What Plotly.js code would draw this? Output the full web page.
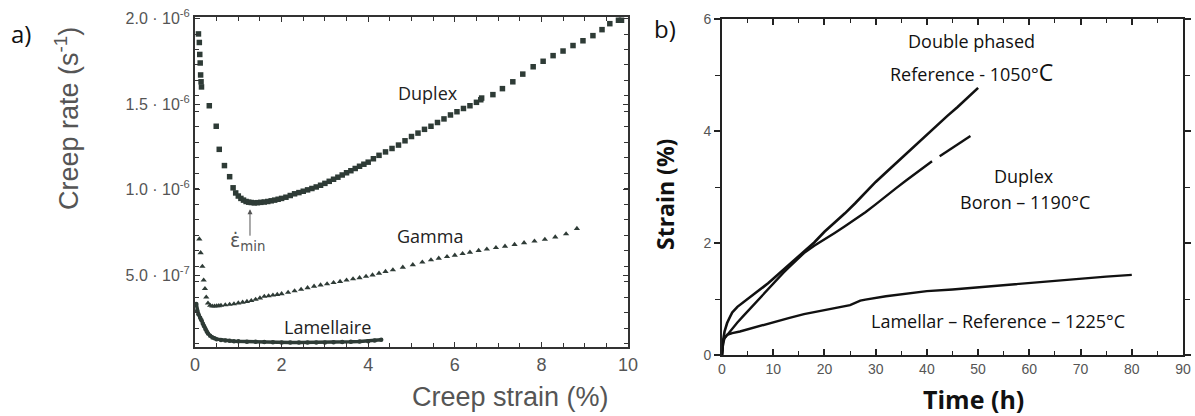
<!DOCTYPE html>
<html>
<head>
<meta charset="utf-8">
<script src="https://cdn.plot.ly/plotly-3.0.1.min.js"></script>
<style>html,body{margin:0;padding:0;background:#fff;}#chart{width:1195px;height:416px;}</style>
</head>
<body>
<div id="chart"></div>
<script>
// ---------- Panel a) : creep rate vs creep strain ----------
const duplexStrain = [0.08,0.10,0.11,0.12,0.13,0.14,0.15,0.33,0.49,0.56,0.68,0.80,0.88,0.94,1.00,1.06,1.12,1.18,1.24,1.30,1.37,1.44,1.52,1.60,1.68,1.76,1.84,1.92,2.00,2.10,2.20,2.30,2.40,2.50,2.60,2.70,2.80,2.90,3.00,3.10,3.20,3.30,3.40,3.50,3.60,3.70,3.80,3.90,4.00,4.12,4.25,4.40,4.55,4.70,4.85,5.00,5.15,5.30,5.45,5.60,5.75,5.90,6.05,6.20,6.35,6.50,6.60,6.62,6.88,7.10,7.34,7.57,7.81,8.04,8.27,8.50,8.73,8.96,9.19,9.40,9.58,9.78,9.85];
const duplexRate = [1.91,1.86,1.79,1.74,1.67,1.63,1.60,1.49,1.37,1.235,1.14,1.075,1.01,0.98,0.962,0.948,0.938,0.930,0.926,0.924,0.922,0.923,0.925,0.927,0.930,0.934,0.938,0.943,0.948,0.955,0.965,0.975,0.982,0.990,0.998,1.006,1.015,1.025,1.036,1.048,1.060,1.072,1.085,1.098,1.110,1.123,1.136,1.148,1.160,1.180,1.200,1.220,1.240,1.260,1.285,1.310,1.330,1.352,1.370,1.392,1.413,1.436,1.455,1.474,1.490,1.510,1.525,1.535,1.555,1.590,1.630,1.675,1.718,1.750,1.783,1.810,1.842,1.870,1.900,1.935,1.970,1.990,1.990];

const gammaStrain = [0.10,0.13,0.17,0.20,0.23,0.26,0.30,0.35,0.40,0.45,0.50,0.55,0.60,0.70,0.80,0.90,1.00,1.10,1.20,1.30,1.40,1.50,1.60,1.70,1.80,1.90,2.00,2.15,2.30,2.45,2.60,2.75,2.90,3.05,3.20,3.35,3.50,3.65,3.80,3.95,4.10,4.25,4.40,4.57,4.80,5.03,5.25,5.45,5.63,5.82,6.00,6.18,6.35,6.55,6.74,6.95,7.16,7.38,7.60,7.84,8.08,8.32,8.57,8.82];
const gammaRate = [0.71,0.63,0.55,0.47,0.42,0.37,0.335,0.322,0.318,0.318,0.319,0.320,0.322,0.325,0.328,0.331,0.336,0.340,0.345,0.350,0.357,0.365,0.375,0.378,0.382,0.386,0.390,0.398,0.407,0.416,0.425,0.434,0.441,0.448,0.455,0.462,0.470,0.477,0.484,0.492,0.500,0.510,0.520,0.530,0.545,0.560,0.575,0.588,0.598,0.607,0.615,0.625,0.633,0.643,0.651,0.660,0.668,0.678,0.688,0.698,0.708,0.722,0.740,0.772];

const lamStrain = [0.03,0.05,0.08,0.12,0.15,0.18,0.21,0.24,0.27,0.30,0.35,0.40,0.45,0.50,0.60,0.70,0.80,0.90,1.00,1.20,1.40,1.60,1.80,2.00,2.20,2.40,2.60,2.80,3.00,3.20,3.40,3.60,3.80,4.00,4.15,4.30];
const lamRate = [0.33,0.29,0.27,0.25,0.235,0.215,0.20,0.185,0.17,0.158,0.145,0.135,0.13,0.125,0.12,0.117,0.115,0.113,0.112,0.110,0.109,0.108,0.107,0.106,0.105,0.105,0.105,0.106,0.106,0.107,0.108,0.109,0.111,0.113,0.117,0.121];

const rateTickVals = [0.5, 1.0, 1.5, 2.0];
const rateTickText = ['5.0 · 10<sup>-7</sup>', '1.0 · 10<sup>-6</sup>', '1.5 · 10<sup>-6</sup>', '2.0 · 10<sup>-6</sup>'];

// ---------- Panel b) : strain vs time ----------
const dpTime = [0,0.2,0.5,1,1.5,2,3,4,5,6,7,8,9,10,11,12,13,14,15,16,18,20,22,24,26,28,30,32,34,36,38,40,42,44,46,48,50];
const dpStrain = [0,0.25,0.42,0.57,0.67,0.76,0.86,0.93,0.99,1.06,1.13,1.20,1.28,1.36,1.44,1.52,1.60,1.68,1.77,1.85,2.01,2.20,2.36,2.53,2.71,2.90,3.09,3.26,3.43,3.60,3.76,3.93,4.10,4.27,4.43,4.60,4.77];

const dxTime = [0,0.2,0.5,1,1.5,2,3,4,5,6,7,8,9,10,11,12,13,14,15,16,18,20,22,24,26,28,30,32,34,36,38,40,41,41.8,42.5,44,46,48.5];
const dxStrain = [0,0.20,0.30,0.36,0.42,0.48,0.58,0.68,0.78,0.88,0.98,1.08,1.18,1.28,1.38,1.47,1.56,1.65,1.74,1.82,1.95,2.06,2.18,2.30,2.42,2.55,2.69,2.84,2.98,3.12,3.26,3.39,3.46,null,3.55,3.64,3.76,3.91];

const lmTime = [0,0.3,1,2,3.5,5,7,10,13,16,20,25,27,28,32,36,40,45,50,55,60,65,70,75,80];
const lmStrain = [0,0.28,0.36,0.39,0.42,0.46,0.51,0.58,0.66,0.73,0.80,0.89,0.97,0.99,1.05,1.10,1.14,1.17,1.21,1.25,1.29,1.33,1.37,1.40,1.43];

// ---------- layout helpers (pixel geometry) ----------
const W = 1195, H = 416;
const X = p => p / W;
const Y = p => 1 - p / H;
const E6 = 1e-6;
const sc = arr => arr.map(v => v == null ? null : v * E6);
const rateRange = [0.079 * E6, 2.009 * E6];

const dotColor = '#2e3b36';
const greyText = '#555555';

const traces = [
  {x: duplexStrain, y: sc(duplexRate), mode: 'markers', type: 'scatter', xaxis: 'x', yaxis: 'y',
   marker: {symbol: 'square', size: 5.5, color: dotColor}, hoverinfo: 'skip'},
  {x: gammaStrain, y: sc(gammaRate), mode: 'markers', type: 'scatter', xaxis: 'x', yaxis: 'y3',
   marker: {symbol: 'triangle-up', size: 5.5, color: dotColor}, hoverinfo: 'skip'},
  {x: lamStrain, y: sc(lamRate), mode: 'lines+markers', type: 'scatter', xaxis: 'x', yaxis: 'y',
   line: {color: dotColor, width: 3.5}, marker: {symbol: 'circle', size: 4.5, color: dotColor}, hoverinfo: 'skip'},
  {x: dpTime, y: dpStrain, mode: 'lines', type: 'scatter', xaxis: 'x2', yaxis: 'y2',
   line: {color: '#111', width: 2.6}, hoverinfo: 'skip'},
  {x: dxTime, y: dxStrain, mode: 'lines', type: 'scatter', xaxis: 'x2', yaxis: 'y2',
   line: {color: '#111', width: 2.4}, connectgaps: false, hoverinfo: 'skip'},
  {x: lmTime, y: lmStrain, mode: 'lines', type: 'scatter', xaxis: 'x2', yaxis: 'y2',
   line: {color: '#111', width: 2.4}, hoverinfo: 'skip'}
];

const leftFam = 'Liberation Sans, Arial, sans-serif';
const rightFam = 'Open Sans, sans-serif';

const layout = {
  width: W, height: H,
  margin: {l: 0, r: 0, t: 0, b: 0},
  paper_bgcolor: '#fff', plot_bgcolor: '#fff',
  showlegend: false,
  xaxis: {
    domain: [X(195), X(628)], anchor: 'y', range: [0, 10],
    tickmode: 'linear', tick0: 0, dtick: 2,
    ticks: 'inside', ticklen: 5, tickcolor: '#333', tickwidth: 1,
    minor: {dtick: 0.5, ticks: 'inside', ticklen: 4, tickcolor: '#333', tickwidth: 1},
    showline: true, linecolor: '#333', linewidth: 2, mirror: 'ticks',
    showgrid: false, zeroline: false,
    tickfont: {family: leftFam, size: 18, color: greyText}
  },
  yaxis: {
    domain: [Y(347), Y(17)], anchor: 'x', range: rateRange,
    tickmode: 'array', tickvals: sc(rateTickVals), ticktext: rateTickText,
    ticks: 'inside', ticklen: 5, tickcolor: '#333', tickwidth: 1,
    showline: true, linecolor: '#333', linewidth: 2, mirror: 'ticks',
    showgrid: false, zeroline: false,
    tickfont: {family: leftFam, size: 16, color: greyText}
  },
  yaxis3: {
    overlaying: 'y', anchor: 'x', side: 'left', range: rateRange,
    tickmode: 'linear', tick0: 2.0 * E6, dtick: 0.0905 * E6,
    ticks: 'inside', ticklen: 4, tickcolor: '#333', tickwidth: 1,
    showticklabels: false,
    showline: true, linecolor: '#333', linewidth: 2, mirror: 'ticks',
    showgrid: false, zeroline: false
  },
  xaxis2: {
    domain: [X(722), X(1183)], anchor: 'y2', range: [0, 90],
    dtick: 10,
    ticks: 'inside', ticklen: 6, tickcolor: '#222', tickwidth: 2,
    minor: {dtick: 5, ticks: 'inside', ticklen: 4, tickcolor: '#222', tickwidth: 1},
    showline: true, linecolor: '#222', linewidth: 2, mirror: 'ticks',
    showgrid: false, zeroline: false,
    tickfont: {family: leftFam, size: 14, color: greyText}
  },
  yaxis2: {
    domain: [Y(355), Y(19)], anchor: 'x2', range: [0, 6],
    dtick: 2,
    ticks: 'outside', ticklen: 6, tickcolor: '#222', tickwidth: 2,
    minor: {dtick: 1, ticks: 'outside', ticklen: 5, tickcolor: '#222', tickwidth: 1},
    showline: true, linecolor: '#222', linewidth: 2, mirror: 'ticks',
    showgrid: false, zeroline: false,
    tickfont: {family: leftFam, size: 14, color: greyText}
  },
  annotations: [
    // panel labels
    {text: 'a)', xref: 'paper', yref: 'paper', x: X(21), y: Y(33), showarrow: false,
     xanchor: 'center', yanchor: 'middle', font: {family: rightFam, size: 24, color: '#111'}},
    {text: 'b)', xref: 'paper', yref: 'paper', x: X(665), y: Y(29), showarrow: false,
     xanchor: 'center', yanchor: 'middle', font: {family: rightFam, size: 24, color: '#111'}},
    // left axis titles
    {text: 'Creep rate (s<sup>-1</sup>)', xref: 'paper', yref: 'paper', x: X(67), y: Y(119), textangle: -90,
     showarrow: false, xanchor: 'center', yanchor: 'middle', font: {family: leftFam, size: 27, color: greyText}},
    {text: 'Creep strain (%)', xref: 'paper', yref: 'paper', x: X(510), y: Y(397),
     showarrow: false, xanchor: 'center', yanchor: 'middle', font: {family: leftFam, size: 27, color: greyText}},
    // left series labels
    {text: 'Duplex', xref: 'paper', yref: 'paper', x: X(428), y: Y(93), showarrow: false,
     xanchor: 'center', yanchor: 'middle', font: {family: rightFam, size: 18, color: '#222'}},
    {text: 'Gamma', xref: 'paper', yref: 'paper', x: X(430), y: Y(236), showarrow: false,
     xanchor: 'center', yanchor: 'middle', font: {family: rightFam, size: 18, color: '#222'}},
    {text: 'Lamellaire', xref: 'paper', yref: 'paper', x: X(328), y: Y(327), showarrow: false,
     xanchor: 'center', yanchor: 'middle', font: {family: rightFam, size: 18, color: '#222'}},
    // epsilon min label and arrow
    {text: 'ε̇<sub>min</sub>', xref: 'paper', yref: 'paper', x: X(247), y: Y(241), showarrow: false,
     xanchor: 'center', yanchor: 'middle', font: {family: 'DejaVu Sans, sans-serif', size: 19, color: greyText}},
    {text: '', xref: 'x', yref: 'y', x: 1.27, y: 0.885 * E6, ax: 0, ay: 28, showarrow: true,
     arrowhead: 2, arrowsize: 1, arrowwidth: 1, arrowcolor: greyText, standoff: 0},
    // right axis titles
    {text: '<b>Strain (%)</b>', xref: 'paper', yref: 'paper', x: X(665), y: Y(195), textangle: -90,
     showarrow: false, xanchor: 'center', yanchor: 'middle', font: {family: rightFam, size: 23, color: '#111'}},
    {text: '<b>Time (h)</b>', xref: 'paper', yref: 'paper', x: X(974), y: Y(399),
     showarrow: false, xanchor: 'center', yanchor: 'middle', font: {family: rightFam, size: 25, color: '#111'}},
    // right series labels
    {text: 'Double phased', xref: 'x2', yref: 'y2', x: 48.8, y: 5.6, showarrow: false,
     xanchor: 'center', yanchor: 'middle', font: {family: rightFam, size: 18, color: '#111'}},
    {text: 'Reference - 1050°<span style="font-size:23px">C</span>', xref: 'x2', yref: 'y2', x: 48.8, y: 5.06, showarrow: false,
     xanchor: 'center', yanchor: 'middle', font: {family: rightFam, size: 18, color: '#111'}},
    {text: 'Duplex', xref: 'x2', yref: 'y2', x: 58.9, y: 3.19, showarrow: false,
     xanchor: 'center', yanchor: 'middle', font: {family: rightFam, size: 18, color: '#111'}},
    {text: 'Boron – 1190°C', xref: 'x2', yref: 'y2', x: 59.1, y: 2.73, showarrow: false,
     xanchor: 'center', yanchor: 'middle', font: {family: rightFam, size: 18, color: '#111'}},
    {text: 'Lamellar – Reference – 1225°C', xref: 'x2', yref: 'y2', x: 53.8, y: 0.61, showarrow: false,
     xanchor: 'center', yanchor: 'middle', font: {family: rightFam, size: 18, color: '#111'}}
  ]
};

Plotly.newPlot('chart', traces, layout, {staticPlot: true, displayModeBar: false});
</script>
</body>
</html>
